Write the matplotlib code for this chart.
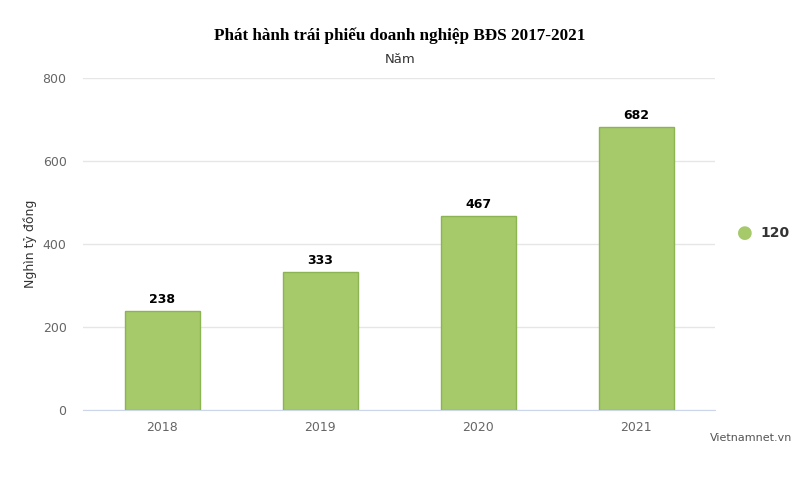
import matplotlib.pyplot as plt
import numpy as np

plt.rcParams['font.family'] = ['DejaVu Sans']

years = ['2018', '2019', '2020', '2021']
values = [238, 333, 467, 682]
series_name = '120'

fig = plt.figure(figsize=(8, 4.8), dpi=100)
ax = fig.add_axes([0.104, 0.146, 0.790, 0.692])

x = np.arange(len(years))
ax.bar(x, values, width=0.475, color='#a6c96a', edgecolor='#8cb552',
       linewidth=1, zorder=3)

# nhãn giá trị trên cột
for xi, v in zip(x, values):
    ax.text(xi, v + 12, str(v), ha='center', va='bottom', fontsize=9,
            fontweight='bold', color='#000000', zorder=4)

ax.set_xlim(-0.5, len(years) - 0.5)
ax.set_ylim(0, 800)
ax.set_yticks([0, 200, 400, 600, 800])
ax.set_xticks(x)
ax.set_xticklabels(years)
ax.tick_params(axis='both', length=0, labelsize=9, colors='#666666')
ax.tick_params(axis='y', pad=12)
ax.tick_params(axis='x', pad=8)
ax.grid(axis='y', color='#e6e6e6', linewidth=1, zorder=0)
for side in ['top', 'right', 'left']:
    ax.spines[side].set_visible(False)
ax.spines['bottom'].set_color('#ccd6eb')

ax.set_ylabel('Nghìn tỷ đồng', fontsize=9, color='#333333', labelpad=4)

fig.text(0.5, 0.925, 'Phát hành trái phiếu doanh nghiệp BĐS 2017-2021',
         ha='center', va='center', fontsize=12.3, fontweight='bold',
         family='Liberation Serif', color='#000000')
fig.text(0.5, 0.877, 'Năm', ha='center', va='center', fontsize=9.5, color='#333333')

# chú thích
fig.text(0.931, 0.514, '●', ha='center', va='center', fontsize=13, color='#a6c96a')
fig.text(0.950, 0.514, series_name, ha='left', va='center', fontsize=10,
         fontweight='bold', color='#333333')

fig.text(0.99, 0.088, 'Vietnamnet.vn', ha='right', va='center', fontsize=8,
         color='#555555')

fig.savefig('out.png', dpi=100)
